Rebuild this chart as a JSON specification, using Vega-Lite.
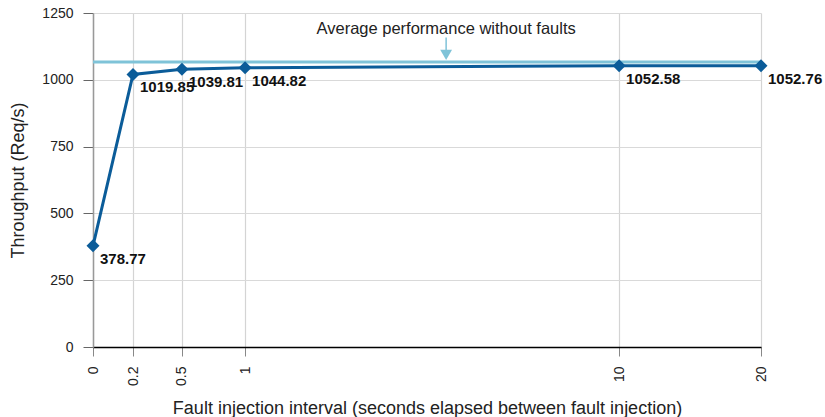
{
  "$schema": "https://vega.github.io/schema/vega-lite/v6.json",
  "width": 668,
  "height": 334,
  "autosize": {"type": "none"},
  "padding": {"left": 93, "top": 13, "right": 64, "bottom": 70},
  "config": {
    "view": {"stroke": null},
    "font": "Liberation Sans"
  },
  "datasets": {
    "series": [
      {"interval": 0, "throughput": 378.77, "label": "378.77"},
      {"interval": 0.2, "throughput": 1019.85, "label": "1019.85"},
      {"interval": 0.5, "throughput": 1039.81, "label": "1039.81"},
      {"interval": 1, "throughput": 1044.82, "label": "1044.82"},
      {"interval": 10, "throughput": 1052.58, "label": "1052.58"},
      {"interval": 20, "throughput": 1052.76, "label": "1052.76"}
    ],
    "avg": [{"throughput": 1067}],
    "note": [{"interval": 4, "throughput": 1190, "label": "Average performance without faults"}],
    "arrow": [{"interval": 4, "throughput": 1158, "throughput2": 1100}],
    "head": [{"interval": 4, "throughput": 1093}]
  },
  "encoding": {
    "x": {
      "field": "interval",
      "type": "quantitative",
      "scale": {"type": "symlog", "constant": 1, "domain": [0, 20], "nice": false},
      "axis": {
        "values": [0, 0.2, 0.5, 1, 10, 20],
        "format": "~g",
        "labelAngle": -90,
        "labelFontSize": 14,
        "labelColor": "#222",
        "labelPadding": 10,
        "tickSize": 9,
        "tickColor": "#888",
        "domainColor": "#000",
        "domainWidth": 1.5,
        "gridColor": "#d4d4d4",
        "gridWidth": 1.2,
        "title": "Fault injection interval (seconds elapsed between fault injection)",
        "titleFontSize": 18,
        "titleFontWeight": "normal",
        "titleColor": "#222",
        "titlePadding": 14
      }
    },
    "y": {
      "field": "throughput",
      "type": "quantitative",
      "scale": {"domain": [0, 1250], "nice": false},
      "axis": {
        "values": [0, 250, 500, 750, 1000, 1250],
        "format": "d",
        "labelFontSize": 14,
        "labelColor": "#222",
        "labelPadding": 10,
        "tickSize": 10,
        "tickColor": "#666",
        "domainColor": "#999",
        "domainWidth": 1.5,
        "gridColor": "#d9d9d9",
        "gridWidth": 1.2,
        "title": "Throughput (Req/s)",
        "titleFontSize": 18,
        "titleFontWeight": "normal",
        "titleColor": "#222",
        "titlePadding": 14
      }
    }
  },
  "layer": [
    {
      "data": {"name": "avg"},
      "mark": {"type": "rule", "color": "#7fc3d8", "strokeWidth": 3},
      "encoding": {"x": null}
    },
    {
      "data": {"name": "arrow"},
      "mark": {"type": "rule", "color": "#7fc3d8", "strokeWidth": 1.5},
      "encoding": {"y2": {"field": "throughput2"}}
    },
    {
      "data": {"name": "head"},
      "mark": {"type": "point", "shape": "triangle-down", "filled": true, "opacity": 1, "color": "#7fc3d8", "size": 140}
    },
    {
      "data": {"name": "note"},
      "mark": {"type": "text", "fontSize": 16.5, "color": "#222", "align": "center", "baseline": "middle"},
      "encoding": {"text": {"field": "label"}}
    },
    {
      "data": {"name": "series"},
      "mark": {"type": "line", "color": "#0b5c99", "strokeWidth": 3}
    },
    {
      "data": {"name": "series"},
      "mark": {"type": "point", "shape": "diamond", "filled": true, "opacity": 1, "color": "#0b5c99", "size": 170}
    },
    {
      "data": {"name": "series"},
      "mark": {"type": "text", "fontSize": 15, "fontWeight": "bold", "color": "#111", "align": "left", "baseline": "alphabetic", "dx": 7, "dy": 18},
      "encoding": {"text": {"field": "label"}}
    }
  ]
}
